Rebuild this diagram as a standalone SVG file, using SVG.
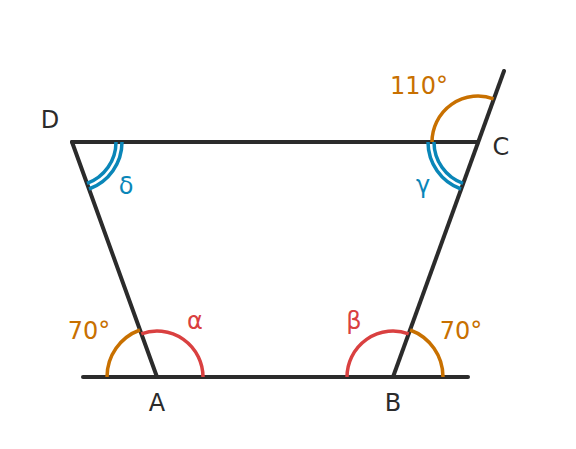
<svg xmlns="http://www.w3.org/2000/svg" width="576" height="449" viewBox="0 0 576 449">
<style>
.ln{stroke:#2b2b2b;stroke-width:4;stroke-linecap:round;fill:none}
.arc{fill:none;stroke-width:3.5}
.or{stroke:#c87000}
.rd{stroke:#d94040}
.bl{stroke:#0a86b8}
text{font-family:"DejaVu Sans","Liberation Sans",sans-serif;font-size:24px;text-anchor:middle}
.tk{fill:#2b2b2b}
.to{fill:#c87000}
.tr{fill:#d94040}
.tb{fill:#0a86b8}
</style>
<rect width="576" height="449" fill="#ffffff"/>
<g id="connectors">
<line class="ln" x1="83" y1="377" x2="468" y2="377"/>
<line class="ln" x1="72" y1="142" x2="157" y2="377"/>
<line class="ln" x1="72" y1="142" x2="478" y2="142"/>
<line class="ln" x1="393" y1="377" x2="504" y2="71"/>
</g>
<g id="angleA">
<path class="arc or" d="M107 377 A50 50 0 0 1 139.9 330"/>
<path class="arc rd" d="M203 377 A46 46 0 0 0 141.3 333.8"/>
<text class="tk" x="157" y="411">A</text>
<text class="tr" x="195" y="329">α</text>
<text class="to" x="89" y="339">70°</text>
</g>
<g id="angleB">
<path class="arc rd" d="M347 377 A46 46 0 0 1 408.7 333.8"/>
<path class="arc or" d="M410.1 330 A50 50 0 0 1 443 377"/>
<text class="tk" x="393" y="411">B</text>
<text class="tr" x="354" y="329">β</text>
<text class="to" x="461" y="339">70°</text>
</g>
<g id="angleC">
<path class="arc or" d="M432 142 A46 46 0 0 1 493.6 98.8"/>
<path class="arc bl" d="M434 142 A44 44 0 0 0 463 183.4"/>
<path class="arc bl" d="M428 142 A50 50 0 0 0 461 189"/>
<text class="tk" x="501" y="155">C</text>
<text class="to" x="419" y="94">110°</text>
<text class="tb" x="423" y="193">γ</text>
</g>
<g id="angleD">
<path class="arc bl" d="M116 142 A44 44 0 0 1 87 183.4"/>
<path class="arc bl" d="M122 142 A50 50 0 0 1 89 189"/>
<text class="tk" x="50" y="128">D</text>
<text class="tb" x="126" y="194">δ</text>
</g>
</svg>
